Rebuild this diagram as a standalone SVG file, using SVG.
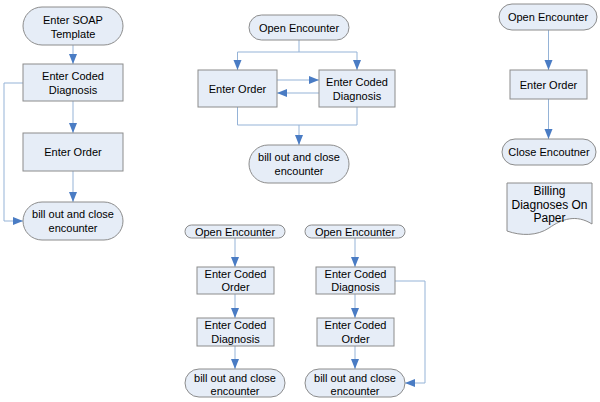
<svg xmlns="http://www.w3.org/2000/svg" width="600" height="402" viewBox="0 0 600 402">
<defs>
<marker id="ah" markerUnits="userSpaceOnUse" markerWidth="10" markerHeight="10" viewBox="0 0 10 10" refX="10" refY="5" orient="auto">
<path d="M0,1 L10,5 L0,9 Z" fill="#4A7CC4"/>
</marker>
<style>
.n{fill:#E6EDF7;stroke:#8C8C8C;stroke-width:1}
.c{fill:none;stroke:#95B3D7;stroke-width:1}
.a{marker-end:url(#ah)}
text{font-family:"Liberation Sans",Arial,sans-serif;font-size:11px;fill:#000;text-anchor:middle}
.big{font-size:12px}
</style>
</defs>
<rect width="600" height="402" fill="#fff"/>
<g id="connectors">
<path class="c a" d="M73,45 V64"/>
<path class="c a" d="M73,101 V133"/>
<path class="c a" d="M73,171 V202"/>
<path class="c a" d="M23,83 H4 V221 H23"/>
<path class="c" d="M299,40 V52 M237.5,52 H357"/>
<path class="c a" d="M237.5,52 V70"/>
<path class="c a" d="M357,52 V70"/>
<path class="c a" d="M277,80 H319"/>
<path class="c a" d="M319,93 H277"/>
<path class="c" d="M237.5,107 V125 H357 V107"/>
<path class="c a" d="M299,125 V145"/>
<path class="c a" d="M548.5,30 V70"/>
<path class="c a" d="M548.5,99 V139"/>
<path class="c a" d="M235,238 V267"/>
<path class="c a" d="M235,294 V318"/>
<path class="c a" d="M235,346 V369"/>
<path class="c a" d="M355,238 V267"/>
<path class="c a" d="M355,294 V318"/>
<path class="c a" d="M355,346 V369"/>
<path class="c a" d="M395,281 H425 V383 H405"/>
</g>
<g id="d1-soap"><rect class="n" x="23" y="7" width="100" height="38" rx="19"/><text x="73" y="24">Enter SOAP</text><text x="73" y="38">Template</text></g>
<g id="d1-diag"><rect class="n" x="23" y="64" width="100" height="37"/><text x="73" y="80">Enter Coded</text><text x="73" y="94">Diagnosis</text></g>
<g id="d1-order"><rect class="n" x="23" y="133" width="100" height="38"/><text x="73" y="156">Enter Order</text></g>
<g id="d1-bill"><rect class="n" x="23" y="202" width="100" height="38" rx="19"/><text x="73" y="218">bill out and close</text><text x="73" y="232">encounter</text></g>
<g id="d2-open"><rect class="n" x="249" y="15" width="100" height="25" rx="12.5"/><text x="299" y="31.5">Open Encounter</text></g>
<g id="d2-order"><rect class="n" x="198" y="70" width="79" height="37"/><text x="237.5" y="92.5">Enter Order</text></g>
<g id="d2-diag"><rect class="n" x="319" y="70" width="76" height="37"/><text x="357" y="86">Enter Coded</text><text x="357" y="100">Diagnosis</text></g>
<g id="d2-bill"><rect class="n" x="249" y="145" width="100" height="38" rx="19"/><text x="299" y="161">bill out and close</text><text x="299" y="175">encounter</text></g>
<g id="d3-open"><rect class="n" x="499" y="4" width="98" height="26" rx="13"/><text x="548" y="21">Open Encounter</text></g>
<g id="d3-order"><rect class="n" x="510" y="70" width="77" height="29"/><text x="548.5" y="88.5">Enter Order</text></g>
<g id="d3-close"><rect class="n" x="502" y="139" width="94" height="26" rx="13"/><text x="549" y="156">Close Encoutner</text></g>
<g id="d3-paper"><path class="n" d="M507,183 H592 V224 C576,214 562,219 549,228 C537,236 521,236 507,231 Z"/><text class="big" x="549.5" y="195">Billing</text><text class="big" x="549.5" y="208.5">Diagnoses On</text><text class="big" x="549.5" y="222">Paper</text></g>
<g id="d4-open"><rect class="n" x="185" y="225" width="100" height="13" rx="6.5"/><text x="235" y="235.5">Open Encounter</text></g>
<g id="d4-order"><rect class="n" x="197" y="267" width="77" height="27"/><text x="235.5" y="277.5">Enter Coded</text><text x="235.5" y="290.5">Order</text></g>
<g id="d4-diag"><rect class="n" x="197" y="318" width="77" height="28"/><text x="235.5" y="329">Enter Coded</text><text x="235.5" y="342.5">Diagnosis</text></g>
<g id="d4-bill"><rect class="n" x="185" y="369" width="100" height="28" rx="14"/><text x="235" y="381.5">bill out and close</text><text x="235" y="394.5">encounter</text></g>
<g id="d5-open"><rect class="n" x="305" y="225" width="100" height="13" rx="6.5"/><text x="355" y="235.5">Open Encounter</text></g>
<g id="d5-diag"><rect class="n" x="316" y="267" width="79" height="27"/><text x="355.5" y="277.5">Enter Coded</text><text x="355.5" y="290.5">Diagnosis</text></g>
<g id="d5-order"><rect class="n" x="317" y="318" width="77" height="28"/><text x="355.5" y="329">Enter Coded</text><text x="355.5" y="342.5">Order</text></g>
<g id="d5-bill"><rect class="n" x="305" y="369" width="100" height="28" rx="14"/><text x="355" y="381.5">bill out and close</text><text x="355" y="394.5">encounter</text></g>
</svg>
